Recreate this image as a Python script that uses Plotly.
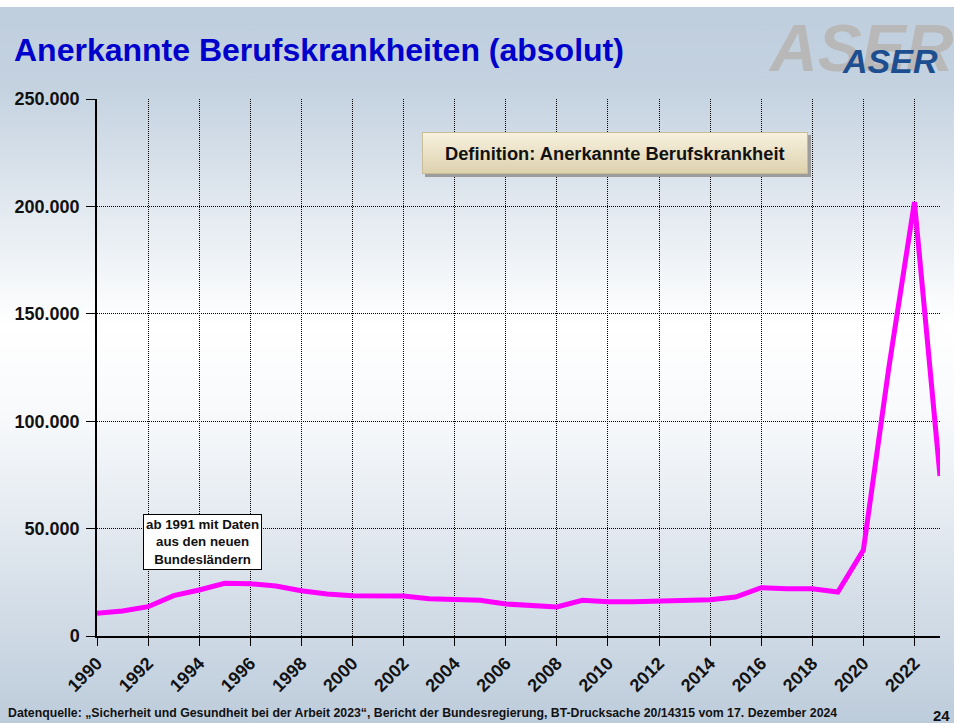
import base64
import plotly.graph_objects as go

# ---- data ----
years = list(range(1990, 2024))
cases = [10550, 11640, 13650, 18770, 21400, 24530, 24350, 23280, 21100, 19550,
         18760, 18480, 18620, 17360, 17200, 16600, 14900, 14100, 13500, 16600,
         15970, 15970, 16150, 16430, 16900, 18150, 22490, 22000, 22000, 20480,
         40000, 125200, 202000, 74500]
y_tickvals = [0, 50000, 100000, 150000, 200000, 250000]
y_ticktext = ["0", "50.000", "100.000", "150.000", "200.000", "250.000"]
x_tickvals = list(range(1990, 2023, 2))
x_ticktext = [str(v) for v in x_tickvals]

title_text = "Anerkannte Berufskrankheiten (absolut)"
def_text = "Definition: Anerkannte Berufskrankheit"
note_text = "ab 1991 mit Daten<br>aus den neuen<br>Bundesländern"
source_text = ("Datenquelle: „Sicherheit und Gesundheit bei der Arbeit 2023“, Bericht der "
               "Bundesregierung, BT-Drucksache 20/14315 vom 17. Dezember 2024")
page_no = "24"

# ---- geometry (pixels) ----
WIDTH, HEIGHT = 954, 723
L, R, T, B = 97, 940, 99, 636
PW, PH = R - L, B - T

def xp(px):
    return (px - L) / PW

def yp(py):
    return (B - py) / PH

def svg_uri(svg):
    return "data:image/svg+xml;base64," + base64.b64encode(svg.encode("utf-8")).decode("ascii")

bg_svg = (
    "<svg xmlns='http://www.w3.org/2000/svg' width='954' height='723' preserveAspectRatio='none'>"
    "<defs><linearGradient id='g' x1='0' y1='0' x2='0' y2='1'>"
    "<stop offset='0' stop-color='#bfcedd'/>"
    "<stop offset='0.12' stop-color='#c4d2e0'/>"
    "<stop offset='0.45' stop-color='#ffffff'/>"
    "<stop offset='0.58' stop-color='#f7f9fb'/>"
    "<stop offset='1' stop-color='#bdccdb'/>"
    "</linearGradient></defs>"
    "<rect width='954' height='723' fill='url(#g)'/>"
    "<rect width='954' height='7' fill='#ffffff'/>"
    "</svg>"
)

# definition box with its drop shadow (389 x 45 px)
box_svg = (
    "<svg xmlns='http://www.w3.org/2000/svg' width='389' height='45' preserveAspectRatio='none'>"
    "<defs><linearGradient id='b' x1='0' y1='0' x2='0' y2='1'>"
    "<stop offset='0' stop-color='#f7f1df'/>"
    "<stop offset='1' stop-color='#ddd1ad'/>"
    "</linearGradient></defs>"
    "<rect x='3' y='3' width='386' height='42' fill='#9c9c9c'/>"
    "<rect x='0.5' y='0.5' width='385' height='41' fill='url(#b)' stroke='#c9bd98' stroke-width='1'/>"
    "</svg>"
)

fig = go.Figure()
fig.add_trace(go.Scatter(
    x=years, y=cases, mode="lines",
    line=dict(color="#ff00ff", width=5),
    hoverinfo="x+y", showlegend=False,
))

font_family = "Liberation Sans, Arial, sans-serif"

images = [
    dict(source=svg_uri(bg_svg), xref="paper", yref="paper",
         x=xp(0), y=yp(0), sizex=WIDTH / PW, sizey=HEIGHT / PH,
         xanchor="left", yanchor="top", sizing="stretch", layer="below"),
    dict(source=svg_uri(box_svg), xref="paper", yref="paper",
         x=xp(422), y=yp(132), sizex=389 / PW, sizey=45 / PH,
         xanchor="left", yanchor="top", sizing="stretch", layer="above"),
]

annotations = [
    dict(text=title_text, xref="paper", yref="paper", x=xp(12), y=yp(50),
         xanchor="left", yanchor="middle", showarrow=False,
         font=dict(family=font_family, size=32, color="#0000cc", weight="bold")),
    dict(text="ASER", xref="paper", yref="paper", x=xp(766), y=yp(48),
         xanchor="left", yanchor="middle", showarrow=False,
         font=dict(family=font_family, size=66, color="#b8b8b8", weight="bold", style="italic")),
    dict(text="ASER", xref="paper", yref="paper", x=xp(840), y=yp(61),
         xanchor="left", yanchor="middle", showarrow=False,
         font=dict(family=font_family, size=34, color="#1d4f90", weight="bold", style="italic")),
    dict(text=def_text, xref="paper", yref="paper", x=xp(615), y=yp(154),
         xanchor="center", yanchor="middle", showarrow=False,
         font=dict(family=font_family, size=18.3, color="#111111", weight="bold")),
    dict(text=note_text, xref="paper", yref="paper", x=xp(202), y=yp(541.5),
         xanchor="center", yanchor="middle", showarrow=False, align="center",
         bgcolor="#ffffff", bordercolor="#000000", borderwidth=1, borderpad=2,
         font=dict(family=font_family, size=13.3, color="#111111", weight="bold")),
    dict(text=source_text, xref="paper", yref="paper", x=xp(6), y=yp(713),
         xanchor="left", yanchor="middle", showarrow=False,
         font=dict(family=font_family, size=12.3, color="#111111", weight="bold")),
    dict(text=page_no, xref="paper", yref="paper", x=xp(952), y=yp(715),
         xanchor="right", yanchor="middle", showarrow=False,
         font=dict(family=font_family, size=15, color="#111111", weight="bold")),
]

fig.update_layout(
    width=WIDTH, height=HEIGHT,
    margin=dict(l=L, r=WIDTH - R, t=T, b=HEIGHT - B, pad=0),
    paper_bgcolor="#ffffff", plot_bgcolor="rgba(0,0,0,0)",
    images=images, annotations=annotations,
    xaxis=dict(
        range=[1990, 2023], tickvals=x_tickvals, ticktext=x_ticktext,
        tickangle=-45, showgrid=True, gridcolor="#000000", griddash="1px,1px", gridwidth=1,
        ticks="outside", ticklen=8, tickcolor="#000000", tickwidth=1,
        showline=True, linecolor="#000000", linewidth=1.5, zeroline=False,
        tickfont=dict(family=font_family, size=18, color="#111111", weight="bold"),
    ),
    yaxis=dict(
        range=[0, 250000], tickvals=y_tickvals, ticktext=y_ticktext,
        showgrid=True, gridcolor="#000000", griddash="1px,1px", gridwidth=1,
        ticks="outside", ticklen=9, tickcolor="#000000", tickwidth=1,
        showline=True, linecolor="#000000", linewidth=1.5, zeroline=False,
        ticklabelstandoff=3,
        tickfont=dict(family=font_family, size=18, color="#111111", weight="bold"),
    ),
)

fig.write_html(
    "out.html",
    config={"displayModeBar": False},
    post_script="document.body.style.margin='0';document.body.style.overflow='hidden';",
)
